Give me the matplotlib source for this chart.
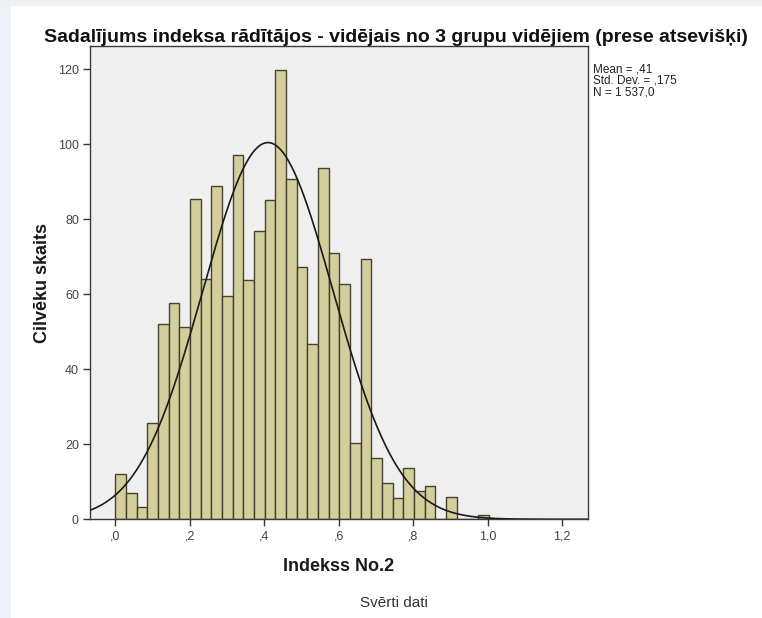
import matplotlib
matplotlib.use("Agg")
import matplotlib.pyplot as plt
import numpy as np
from matplotlib.patches import Rectangle
from matplotlib.ticker import FuncFormatter

plt.rcParams["font.family"] = ["Liberation Sans", "DejaVu Sans"]

# histogram (weighted counts per bin)
bin_start = 0.0
bin_width = 0.02867
counts = [12, 7, 3.3, 25.6, 52, 57.6, 51.3, 85.5, 64.1, 88.8,
          59.6, 97.1, 63.8, 76.9, 85.2, 119.8, 90.8, 67.3, 46.7, 93.8,
          71.1, 62.7, 20.3, 69.3, 16.4, 9.6, 5.6, 13.7, 7.6, 8.9,
          0, 5.9, 0, 0, 1.1]

# summary statistics printed on the chart
mean = 0.41
std = 0.175
n_total = 1537.0

x_ticks = [0.0, 0.2, 0.4, 0.6, 0.8, 1.0, 1.2]
y_ticks = [0, 20, 40, 60, 80, 100, 120]


def spss_num(v, _pos=None):
    s = f"{v:.1f}".replace(".", ",")
    if s.startswith("0,"):
        s = s[1:]
    return s


fig = plt.figure(figsize=(7.62, 6.18), dpi=100)
fig.patch.set_facecolor("white")
# screenshot frame
fig.patches.append(Rectangle((0, 0), 11 / 762, 1, transform=fig.transFigure,
                             facecolor="#eef1f7", edgecolor="none", zorder=-1))
fig.patches.append(Rectangle((0, 1 - 6 / 618), 1, 6 / 618, transform=fig.transFigure,
                             facecolor="#eef0f4", edgecolor="none", zorder=-1))

ax = fig.add_axes([90 / 762, 1 - 519.3 / 618, 498 / 762, 473.3 / 618])
ax.set_facecolor("#efefef")

lefts = bin_start + np.arange(len(counts)) * bin_width
ax.bar(lefts, counts, width=bin_width, align="edge", color="#d3ce9b",
       edgecolor="#45432f", linewidth=1.0, zorder=2)

xmin, xmax = -0.068, 1.270
xs = np.linspace(xmin, xmax, 500)
ys = n_total * bin_width * np.exp(-0.5 * ((xs - mean) / std) ** 2) / (std * np.sqrt(2 * np.pi))
ax.plot(xs, ys, color="#1a1a1a", linewidth=1.2, zorder=3)

ax.set_xlim(xmin, xmax)
ax.set_ylim(0, 126.2)
ax.set_xticks(x_ticks)
ax.set_yticks(y_ticks)
ax.xaxis.set_major_formatter(FuncFormatter(spss_num))
ax.tick_params(axis="both", direction="out", length=5, width=1, color="#333333",
               labelsize=9, labelcolor="#444444", pad=3)

for sp in ax.spines.values():
    sp.set_color("#3a3a3a")
    sp.set_linewidth(1.0)

ax.set_xlabel("Indekss No.2", fontsize=13, fontweight="bold", color="#1a1a1a", labelpad=11)
ax.set_ylabel("Cilvēku skaits", fontsize=13, fontweight="bold", color="#1a1a1a", labelpad=5)

fig.text(396 / 762, 1 - 37 / 618, "Sadalījums indeksa rādītājos - vidējais no 3 grupu vidējiem (prese atsevišķi)",
         ha="center", va="center", fontsize=14, fontweight="bold", color="#111111")

stats = f"Mean = ,{int(round(mean * 100))}\nStd. Dev. = ,{int(round(std * 1000))}\nN = 1 537,0"
fig.text(593 / 762, 1 - 63 / 618, stats, ha="left", va="top", fontsize=8.5,
         linespacing=0.95, color="#222222")

fig.text(394 / 762, 1 - 603 / 618, "Svērti dati", ha="center", va="center",
         fontsize=11, color="#333333")

fig.savefig("out.png", dpi=100)
